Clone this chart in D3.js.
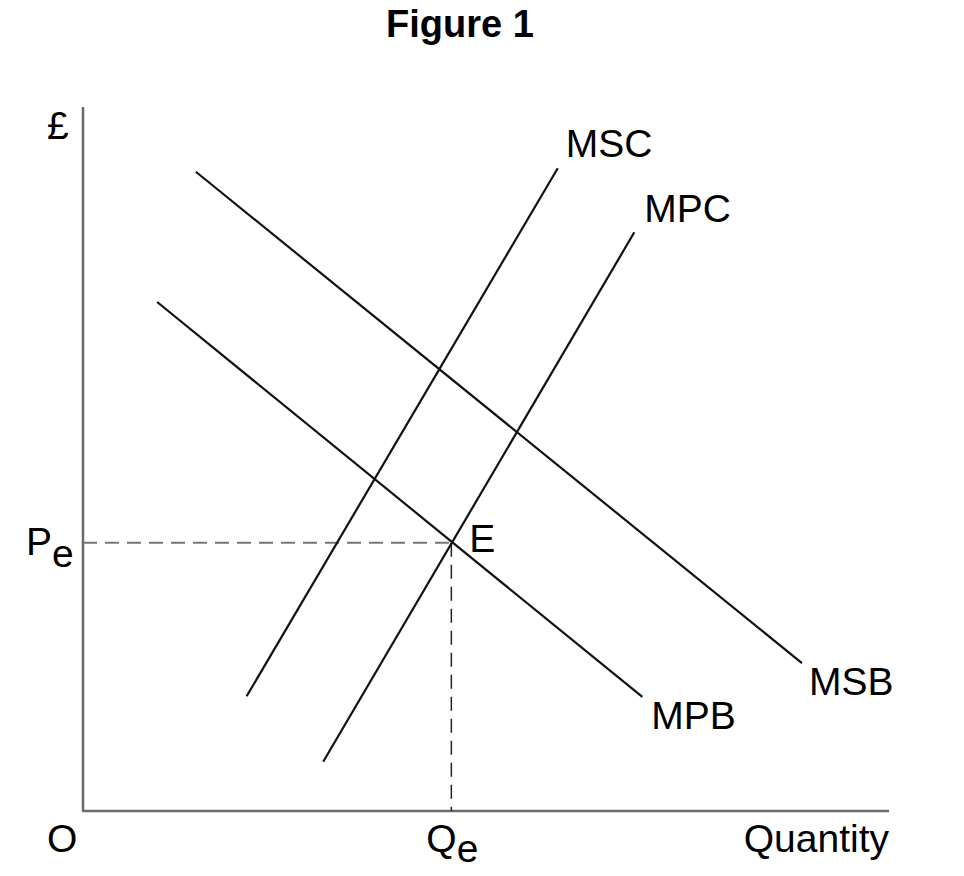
<!DOCTYPE html>
<html>
<head>
<meta charset="utf-8">
<script src="https://cdn.jsdelivr.net/npm/d3@7"></script>
<style>
  html, body { margin: 0; padding: 0; background: #fff; }
  svg { display: block; font-family: "Liberation Sans", Arial, Helvetica, sans-serif; }
</style>
</head>
<body>
<svg id="chart" width="964" height="876"></svg>
<script>
// ---- data (abstract units, 0..10 on both axes) ----
const curveNames = ["MSB", "MPB", "MSC", "MPC"];
const curveStartQ = [1.40, 0.92, 2.03, 2.98];
const curveStartP = [9.08, 7.23, 1.63, 0.70];
const curveEndQ   = [8.92, 6.94, 5.89, 6.84];
const curveEndP   = [2.10, 1.62, 9.13, 8.22];
const equilibriumQ = [4.57];
const equilibriumP = [3.81];
const titleText = ["Figure 1"];
const axisLabels = ["£", "Quantity", "O"];

// ---- layout ----
const svg = d3.select("#chart");
const x = d3.scaleLinear().domain([0, 10]).range([83, 889]);
const y = d3.scaleLinear().domain([0, 10]).range([811, 107]);
const FS = 39;

// title
svg.append("text")
  .attr("x", 460).attr("y", 37)
  .attr("text-anchor", "middle")
  .attr("font-weight", "bold")
  .attr("font-size", 38)
  .attr("fill", "#000")
  .text(titleText[0]);

// axes (drawn as the frame lines)
const axisColor = "#6b6b6b";
svg.append("line")
  .attr("x1", x(0)).attr("y1", y(10))
  .attr("x2", x(0)).attr("y2", y(0))
  .attr("stroke", axisColor).attr("stroke-width", 2.5);
svg.append("line")
  .attr("x1", x(0) - 1).attr("y1", y(0))
  .attr("x2", x(10)).attr("y2", y(0))
  .attr("stroke", axisColor).attr("stroke-width", 2.5);

// dashed guides
const qe = equilibriumQ[0], pe = equilibriumP[0];
svg.append("line")
  .attr("x1", x(0)).attr("y1", y(pe))
  .attr("x2", x(qe)).attr("y2", y(pe))
  .attr("stroke", "#777").attr("stroke-width", 2)
  .attr("stroke-dasharray", "14 8");
svg.append("line")
  .attr("x1", x(qe)).attr("y1", y(pe))
  .attr("x2", x(qe)).attr("y2", y(0))
  .attr("stroke", "#222").attr("stroke-width", 1.5)
  .attr("stroke-dasharray", "14 8");

// curves
const curves = curveNames.map((n, i) => ({
  name: n, q0: curveStartQ[i], p0: curveStartP[i], q1: curveEndQ[i], p1: curveEndP[i]
}));
svg.selectAll("line.curve").data(curves).enter().append("line")
  .attr("class", "curve")
  .attr("x1", d => x(d.q0)).attr("y1", d => y(d.p0))
  .attr("x2", d => x(d.q1)).attr("y2", d => y(d.p1))
  .attr("stroke", "#111").attr("stroke-width", 2.2);

// curve labels, offset from the end of each curve
const labelOffsets = { MSB: [7, 32], MPB: [9, 32], MSC: [8, -11], MPC: [10, -10] };
svg.selectAll("text.curveLabel").data(curves).enter().append("text")
  .attr("class", "curveLabel")
  .attr("x", d => x(d.q1) + labelOffsets[d.name][0])
  .attr("y", d => y(d.p1) + labelOffsets[d.name][1])
  .attr("font-size", FS).attr("fill", "#000")
  .text(d => d.name);

// E label
svg.append("text")
  .attr("x", x(qe) + 18).attr("y", y(pe) + 9)
  .attr("font-size", FS).attr("fill", "#000")
  .text("E");

// P_e
const peLabel = svg.append("text")
  .attr("x", 26).attr("y", y(pe) + 12)
  .attr("font-size", FS).attr("fill", "#000");
peLabel.append("tspan").text("P");
peLabel.append("tspan").attr("dy", 12).text("e");

// Q_e
const qeLabel = svg.append("text")
  .attr("x", x(qe) - 25).attr("y", 852)
  .attr("font-size", FS).attr("fill", "#000");
qeLabel.append("tspan").text("Q");
qeLabel.append("tspan").attr("dy", 10).text("e");

// £, O, Quantity
svg.append("text")
  .attr("x", 47).attr("y", 139)
  .attr("font-size", FS).attr("fill", "#000")
  .text(axisLabels[0]);
svg.append("text")
  .attr("x", x(10)).attr("y", 852)
  .attr("text-anchor", "end")
  .attr("font-size", FS).attr("fill", "#000")
  .text(axisLabels[1]);
svg.append("text")
  .attr("x", 47).attr("y", 852)
  .attr("font-size", FS).attr("fill", "#000")
  .text(axisLabels[2]);
</script>
</body>
</html>
